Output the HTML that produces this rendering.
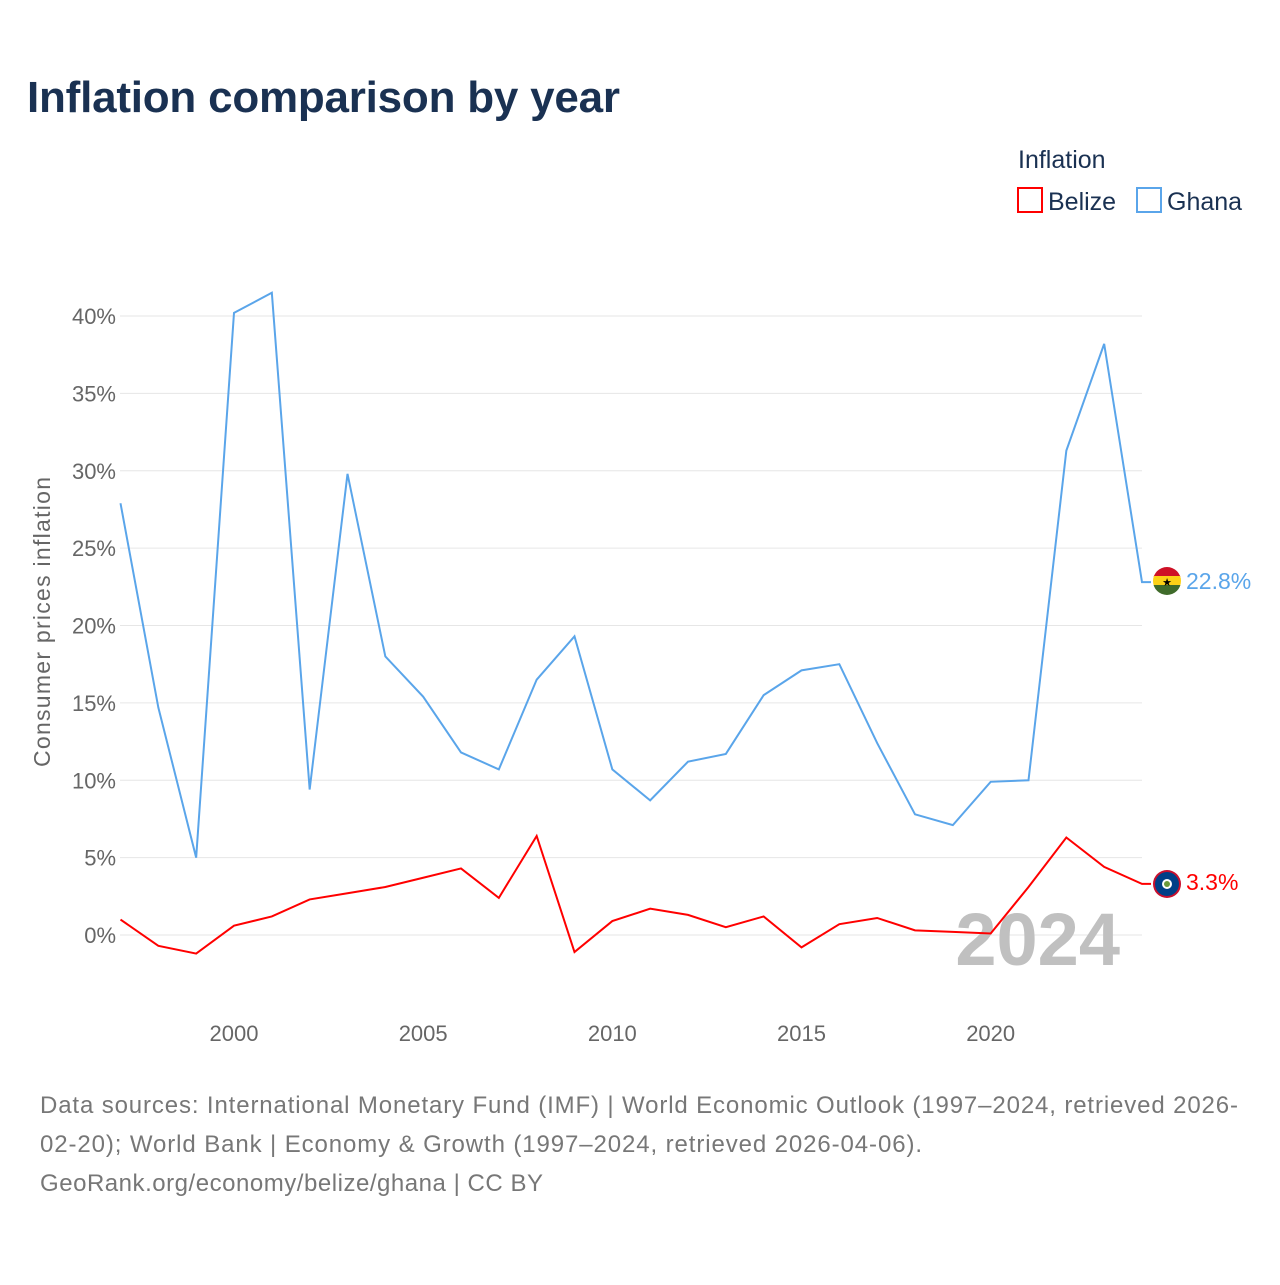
<!DOCTYPE html>
<html><head><meta charset="utf-8"><style>
body{margin:0;background:#fff;font-family:"Liberation Sans",sans-serif}
</style></head><body>
<svg width="1280" height="1280" xmlns="http://www.w3.org/2000/svg" font-family="Liberation Sans, sans-serif">
<text x="27" y="112" font-size="44" font-weight="bold" fill="#1a3152" textLength="593">Inflation comparison by year</text>
<text x="1018" y="168" font-size="25" fill="#1a3152">Inflation</text>
<g><rect x="1018" y="188" width="24" height="24" fill="#fff" stroke="#f00" stroke-width="2"/><text x="1048" y="210" font-size="25" fill="#1a3152">Belize</text></g>
<g><rect x="1137" y="188" width="24" height="24" fill="#fff" stroke="#5aa5ea" stroke-width="2"/><text x="1167" y="210" font-size="25" fill="#1a3152">Ghana</text></g>
<g id="grid"></g><g id="yt"></g><g id="xt"></g>
<text transform="translate(50,622) rotate(-90)" text-anchor="middle" font-size="23" fill="#666" textLength="290">Consumer prices inflation</text>
<text x="1120" y="965" text-anchor="end" font-size="74" font-weight="bold" fill="#c0c0c0">2024</text>
<g id="lines"></g>
<g><clipPath id="c1"><circle cx="1167" cy="581" r="14"/></clipPath><g clip-path="url(#c1)"><rect x="1150" y="567" width="34" height="10" fill="#ce1126"/><rect x="1150" y="576" width="34" height="10" fill="#fcd116"/><rect x="1150" y="585" width="34" height="10" fill="#3f6b2a"/></g><text x="1167" y="586" font-size="11" text-anchor="middle" fill="#000">★</text></g>
<g><circle cx="1167" cy="884" r="14" fill="#c8102e"/><circle cx="1167" cy="884" r="12" fill="#003f87"/><circle cx="1167" cy="884" r="5" fill="#fff"/><circle cx="1167" cy="884" r="3" fill="#6a9a3a"/></g>
<text x="1186" y="589" font-size="23" fill="#5aa5ea">22.8%</text>
<text x="1186" y="890" font-size="23" fill="#f00">3.3%</text>
<g font-size="24" fill="#777">
<text x="40" y="1113" textLength="1198">Data sources: International Monetary Fund (IMF) | World Economic Outlook (1997–2024, retrieved 2026-</text>
<text x="40" y="1152" textLength="882">02-20); World Bank | Economy &amp; Growth (1997–2024, retrieved 2026-04-06).</text>
<text x="40" y="1191" textLength="503">GeoRank.org/economy/belize/ghana | CC BY</text></g>
</svg>
<script>
const years=[1997,1998,1999,2000,2001,2002,2003,2004,2005,2006,2007,2008,2009,2010,2011,2012,2013,2014,2015,2016,2017,2018,2019,2020,2021,2022,2023,2024];
const ghana=[27.9,14.7,5.0,40.2,41.5,9.4,29.8,18.0,15.4,11.8,10.7,16.5,19.3,10.7,8.7,11.2,11.7,15.5,17.1,17.5,12.4,7.8,7.1,9.9,10.0,31.3,38.2,22.8];
const belize=[1.0,-0.7,-1.2,0.6,1.2,2.3,2.7,3.1,3.7,4.3,2.4,6.4,-1.1,0.9,1.7,1.3,0.5,1.2,-0.8,0.7,1.1,0.3,0.2,0.1,3.1,6.3,4.4,3.3];
const yTicks=[0,5,10,15,20,25,30,35,40];
const xTicks=[2000,2005,2010,2015,2020];
const ns="http://www.w3.org/2000/svg";
const X=y=>120.5+(y-1997)*(1142-120.5)/27;
const Y=v=>935-v*15.475;
function mk(t,a,p){const e=document.createElementNS(ns,t);for(const k in a)e.setAttribute(k,a[k]);document.getElementById(p).appendChild(e);return e;}
yTicks.forEach(v=>{const l=mk('line',{x1:120,x2:1142,y1:Y(v),y2:Y(v),stroke:'#e6e6e6'},'grid');


const t=mk('text',{x:116,y:Y(v)+8,'text-anchor':'end','font-size':22,fill:'#666'},'yt');t.textContent=v+'%';

});
xTicks.forEach(v=>{const t=mk('text',{x:X(v),y:1041,'text-anchor':'middle','font-size':22,fill:'#666'},'xt');t.textContent=v;

});
function line(d,c,n){const pts=d.map((v,i)=>X(years[i])+','+Y(v));pts.push((X(2024)+9)+','+Y(d[d.length-1]));
const p=mk('polyline',{points:pts.join(' '),fill:'none',stroke:c,'stroke-width':2},'lines');

}
line(ghana,'#5aa5ea','ghana-line');
line(belize,'#f00','belize-line');
</script>
</body></html>
